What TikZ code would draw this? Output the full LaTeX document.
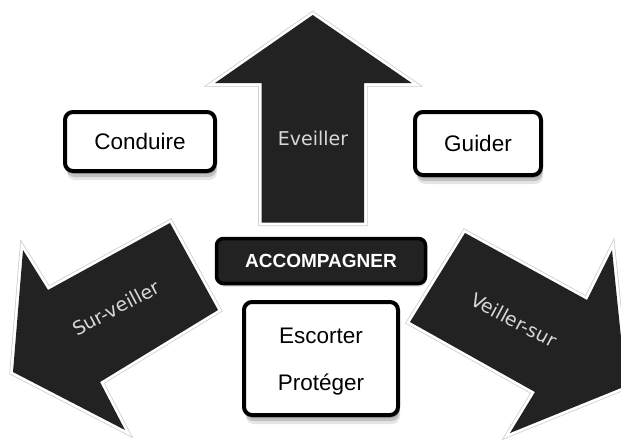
\documentclass[tikz,border=0pt]{standalone}
\usepackage{fontspec}
\setmainfont{Liberation Sans}
\newfontfamily\arrowfont{DejaVu Sans}
\usetikzlibrary{shadows}
\definecolor{dark}{HTML}{222222}
\definecolor{lbl}{HTML}{D8D8D8}
\begin{document}
\begin{tikzpicture}[x=1pt,y=-1pt,
  arrowrim/.style={draw=gray!40, line width=7pt, line join=miter},
  arrowwhite/.style={draw=white, line width=5.5pt, line join=miter},
  arrowfill/.style={fill=dark},
  arrowlabel/.style={text=lbl, font=\arrowfont\fontsize{19}{21}\selectfont},
  whitebox/.style={draw=black, line width=4pt, fill=white, rounded corners=8pt,
    drop shadow={shadow xshift=2pt, shadow yshift=-9pt, opacity=0.2},
    drop shadow={shadow xshift=1.5pt, shadow yshift=-6pt, opacity=0.35},
    drop shadow={shadow xshift=1pt, shadow yshift=-3pt, opacity=0.5},
    font=\fontsize{22.5}{26}\selectfont, inner sep=0pt},
  darkbox/.style={draw=black, line width=3.5pt, fill=dark, rounded corners=7pt,
    drop shadow={shadow xshift=1pt, shadow yshift=-3pt, opacity=0.3},
    text=white, font=\bfseries\fontsize{19}{22}\selectfont, inner sep=0pt}
]
\useasboundingbox (0,0) rectangle (621,439);
\clip (0,0) rectangle (621,439);
\fill[white] (0,0) rectangle (621,439);

% up arrow
\def\uparrowpath{(312.7,15) -- (411.7,83) -- (364,83) -- (364,222.7) -- (261.7,222.7) -- (261.7,83) -- (215,83) -- cycle}
\path[arrowrim] \uparrowpath;
\path[arrowwhite] \uparrowpath;
\path[arrowfill] \uparrowpath;

% left arrow
\def\leftarrowpath{(13,372) -- (23,250) -- (48,290) -- (170,223) -- (218,310) -- (100,382) -- (125,430) -- cycle}
\path[arrowrim] \leftarrowpath;
\path[arrowwhite] \leftarrowpath;
\path[arrowfill] \leftarrowpath;

% right arrow
\def\rightarrowpath{(626,386) -- (510,433) -- (535,392) -- (410,322) -- (465,233) -- (587,300) -- (612,250) -- cycle}
\path[arrowrim] \rightarrowpath;
\path[arrowwhite] \rightarrowpath;
\path[arrowfill] \rightarrowpath;

\node[arrowlabel] (eveiller) at (313,138) {Eveiller};
\node[arrowlabel, rotate=28] (surveiller) at (116,308) {Sur-veiller};
\node[arrowlabel, rotate=-28] (veillersur) at (514,320) {Veiller-sur};

% boxes
\node[whitebox, minimum width=150pt, minimum height=59pt] (conduire) at (140,141.5) {Conduire};
\node[whitebox, minimum width=126pt, minimum height=63pt] (guider) at (478,143.5) {Guider};
\node[darkbox, minimum width=209pt, minimum height=45pt] (accomp) at (321,261) {ACCOMPAGNER};
\node[whitebox, minimum width=154pt, minimum height=113pt] (escort) at (321,358.5) {};
\node[font=\fontsize{22.5}{26}\selectfont] (escorter) at (321,336) {Escorter};
\node[font=\fontsize{22.5}{26}\selectfont] (proteger) at (321,385) {Protéger};
\end{tikzpicture}
\end{document}
